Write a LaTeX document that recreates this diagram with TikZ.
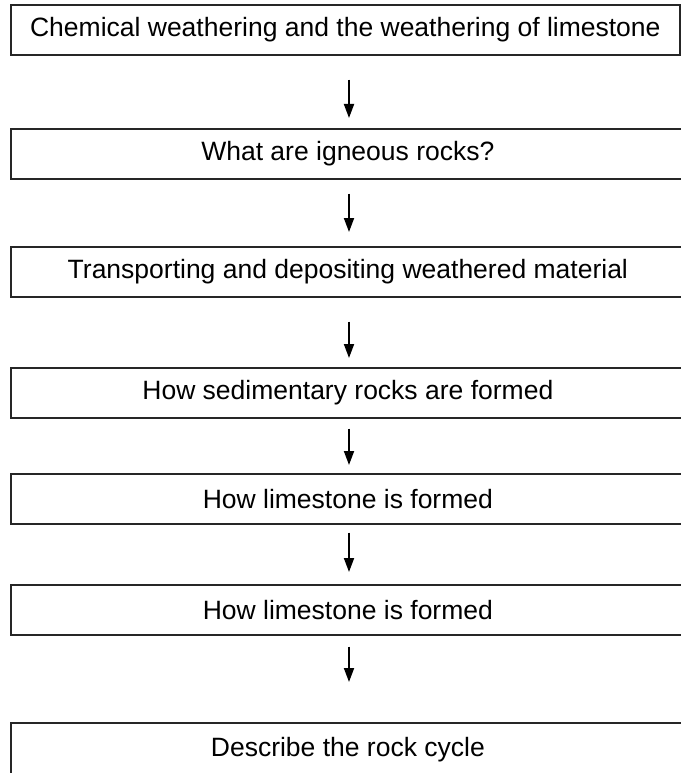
\documentclass[tikz,border=0pt]{standalone}
\usepackage{fontspec}
\setmainfont{Liberation Sans}
\usetikzlibrary{arrows.meta}
\begin{document}
\begin{tikzpicture}[x=1pt,y=-1pt,
  stepbox/.style={draw=black!85, line width=1.7pt, rectangle, inner sep=0pt,
    anchor=north west, minimum width=669pt, minimum height=50pt,
    font=\fontsize{26.5}{30}\selectfont},
  widebox/.style={stepbox, minimum width=674pt},
  arr/.style={line width=1.8pt, -{Triangle[length=14pt,width=10pt]}}]
\useasboundingbox (0,0) rectangle (680,773);
\coordinate (ax) at (349,0);
\node[stepbox] (b1) at (10,4) {Chemical weathering and the weathering of limestone};
\node[widebox] (b2) at (10,128) {What are igneous rocks?};
\node[widebox] (b3) at (10,246) {Transporting and depositing weathered material};
\node[widebox] (b4) at (10,367) {How sedimentary rocks are formed};
\node[widebox] (b5) at (10,473) {How limestone is formed};
\node[widebox] (b6) at (10,584) {How limestone is formed};
\node[widebox, minimum height=53pt] (b7) at (10,722) {Describe the rock cycle};
\draw[arr, shorten <=24pt, shorten >=10pt] (b1.south -| ax) -- (b2.north -| ax);
\draw[arr, shorten <=14pt, shorten >=14pt] (b2.south -| ax) -- (b3.north -| ax);
\draw[arr, shorten <=24pt, shorten >=9pt] (b3.south -| ax) -- (b4.north -| ax);
\draw[arr, shorten <=10pt, shorten >=8pt] (b4.south -| ax) -- (b5.north -| ax);
\draw[arr, shorten <=8pt, shorten >=12pt] (b5.south -| ax) -- (b6.north -| ax);
\draw[arr, shorten <=11pt, shorten >=40pt] (b6.south -| ax) -- (b7.north -| ax);
\end{tikzpicture}
\end{document}
